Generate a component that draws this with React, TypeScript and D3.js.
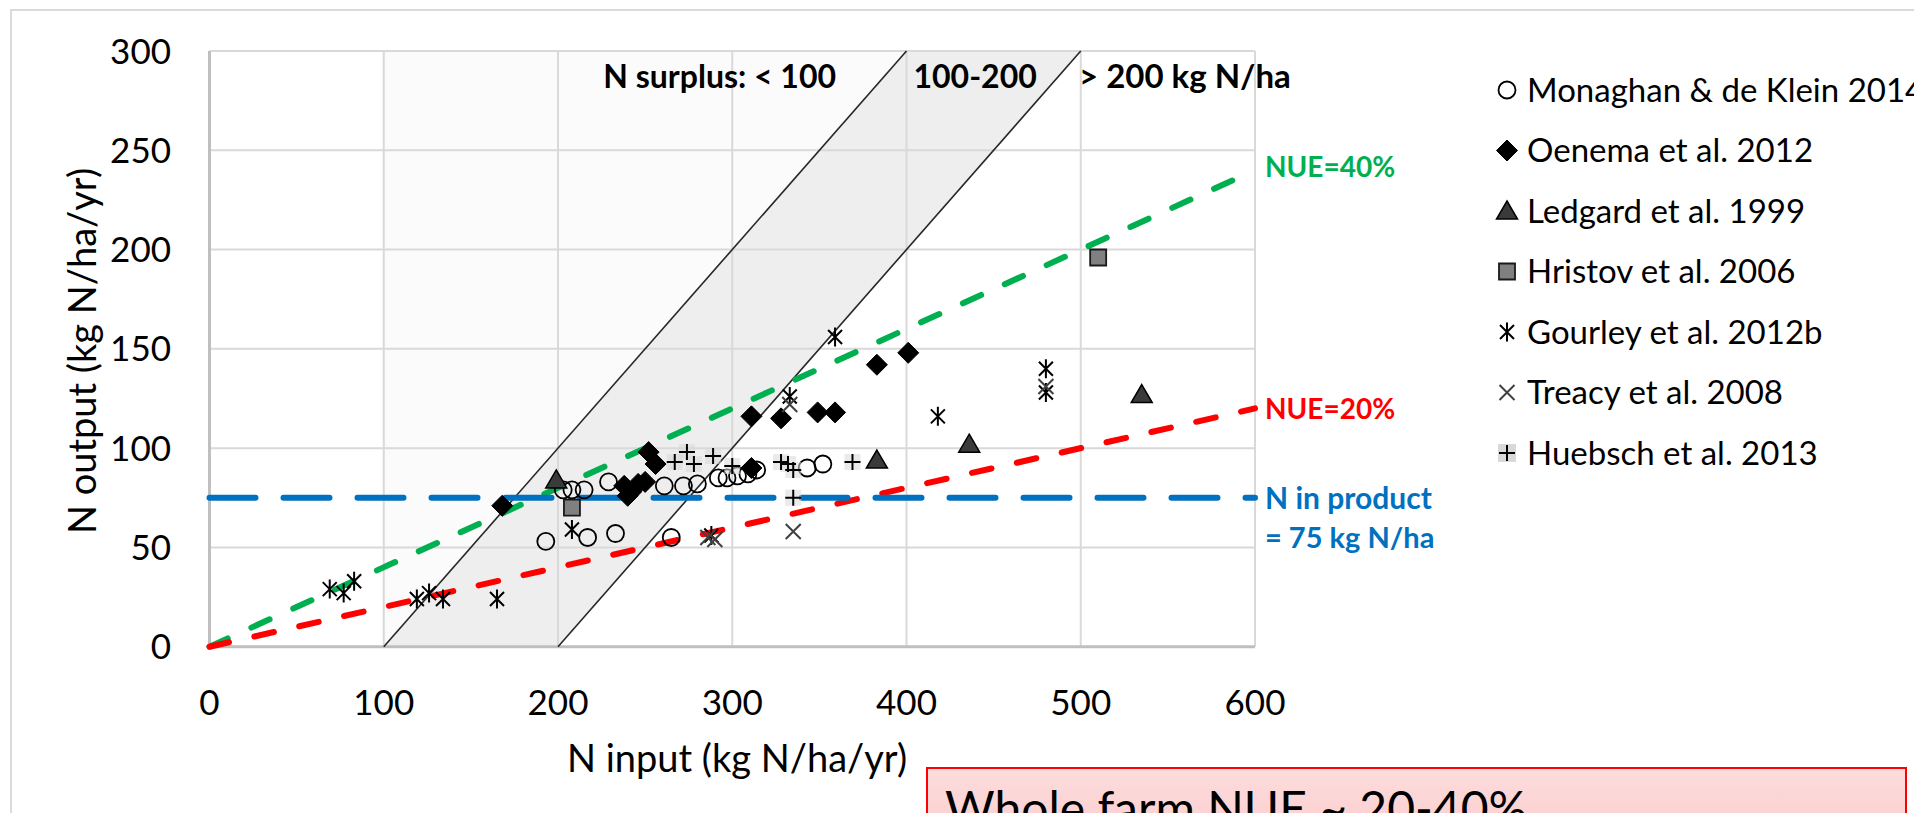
import * as d3 from 'd3';
import React, { useEffect, useRef } from 'react';

const W = 1914;
const H = 813;

// points: [N input, N output] in kg N/ha/yr
const monaghan = [[193, 53], [203, 79], [208, 79], [215, 79], [217, 55], [229, 83], [233, 57], [261, 81], [265, 55], [272, 81], [280, 82], [292, 85], [297, 85], [303, 86], [309, 87], [314, 89], [343, 90], [352, 92]];
const oenema = [[168, 71], [238, 81], [240, 76], [242, 78], [246, 82], [250, 83], [252, 98], [256, 92], [311, 90], [311, 116], [328, 115], [349, 118], [359, 118], [383, 142], [401, 148]];
const ledgard = [[199, 84], [383, 94], [436, 102], [535, 127]];
const hristov = [[208, 70], [510, 196]];
const gourley = [[69, 29], [77, 27], [83, 33], [119, 24], [126, 27], [134, 24], [165, 24], [208, 59], [288, 56], [333, 126], [359, 156], [418, 116], [480, 140], [480, 128]];
const treacy = [[286, 55], [290, 54], [335, 58], [333, 122], [480, 131]];
const huebsch = [[267, 93], [274, 98], [278, 92], [289, 96], [300, 91], [328, 93], [332, 92], [335, 89], [335, 75], [369, 93]];

const legendNames = ['Monaghan & de Klein 2014', 'Oenema et al. 2012', 'Ledgard et al. 1999', 'Hristov et al. 2006', 'Gourley et al. 2012b', 'Treacy et al. 2008', 'Huebsch et al. 2013'];

const xTicks = [0, 100, 200, 300, 400, 500, 600];
const yTicks = [0, 50, 100, 150, 200, 250, 300];

const nueRates = [0.4, 0.2];
const nueLabels = ['NUE=40%', 'NUE=20%'];
const surplusLimits = [100, 200];
const productN = 75;
const surplusLabels = ['N surplus: < 100', '100-200', '> 200 kg N/ha'];
const surplusLabelX = [226, 404, 499];

const FONT = 'Lato, Calibri, sans-serif';

// marker outlines, centred on 0,0
const shapes = {
    circle: 'M8.5,0A8.5,8.5 0 1,1 -8.5,0A8.5,8.5 0 1,1 8.5,0Z',
    diamond: 'M0,-10.5L10.5,0L0,10.5L-10.5,0Z',
    triangle: 'M0,-10L10.5,8L-10.5,8Z',
    square: 'M-8,-8L8,-8L8,8L-8,8Z',
    asterisk: 'M-7,-7L7,7M-7,7L7,-7M0,-9.5L0,9.5',
    times: 'M-7.5,-7.5L7.5,7.5M-7.5,7.5L7.5,-7.5',
    plus: 'M-8,0L8,0M0,-8L0,8',
}

const series = [
    { pts: monaghan, d: shapes.circle, fill: 'none', stroke: '#000', sw: 1.8 },
    { pts: oenema, d: shapes.diamond, fill: '#000', stroke: '#000', sw: 1 },
    { pts: ledgard, d: shapes.triangle, fill: '#3a3a3a', stroke: '#000', sw: 1.5 },
    { pts: hristov, d: shapes.square, fill: '#808080', stroke: '#1a1a1a', sw: 1.8 },
    { pts: gourley, d: shapes.asterisk, fill: 'none', stroke: '#000', sw: 2 },
    { pts: treacy, d: shapes.times, fill: 'none', stroke: '#404040', sw: 2 },
    { pts: huebsch, d: shapes.plus, fill: 'none', stroke: '#000', sw: 2, back: true },
]

function Chart() {
    const ref = useRef(null)

    var drawChart = () => {
        const svg = d3.select(ref.current)
        svg.selectAll('*').remove()

        const x = d3.scaleLinear().domain([0, 600]).range([209.5, 1255])
        const y = d3.scaleLinear().domain([0, 300]).range([646.7, 51])

        const defs = svg.append('defs')
        const grad = defs.append('linearGradient').attr('id', 'pink').attr('x1', 0).attr('y1', 0).attr('x2', 0).attr('y2', 1)
        grad.append('stop').attr('offset', '0%').attr('stop-color', '#fddcdc')
        grad.append('stop').attr('offset', '100%').attr('stop-color', '#fbc3c5')

        svg.append('rect').attr('width', W).attr('height', H).attr('fill', '#fff')

        //outer chart frame (runs off the page right and bottom)
        svg.append('rect')
            .attr('x', 11).attr('y', 10).attr('width', 2200).attr('height', 1200)
            .attr('fill', 'none').attr('stroke', '#dadada').attr('stroke-width', 2)

        //surplus shading
        const poly = d3.line().x(d => x(d[0])).y(d => y(d[1]))
        const lo = surplusLimits[0], hi = surplusLimits[1]
        svg.append('path')
            .attr('d', poly([[lo, 0], [lo, 300], [lo + 300, 300]]) + 'Z')
            .attr('fill', '#fbfbfb')
        svg.append('path')
            .attr('d', poly([[lo, 0], [hi, 0], [hi + 300, 300], [lo + 300, 300]]) + 'Z')
            .attr('fill', '#eeeeee')

        //grid
        svg.append('g').selectAll('line').data(yTicks.slice(1)).join('line')
            .attr('x1', x(0)).attr('x2', x(600))
            .attr('y1', d => y(d)).attr('y2', d => y(d))
            .attr('stroke', '#d9d9d9').attr('stroke-width', 2)
        svg.append('g').selectAll('line').data(xTicks.slice(1)).join('line')
            .attr('y1', y(0)).attr('y2', y(300))
            .attr('x1', d => x(d)).attr('x2', d => x(d))
            .attr('stroke', '#d9d9d9').attr('stroke-width', 2)

        //axis lines
        svg.append('line').attr('x1', x(0)).attr('x2', x(0)).attr('y1', y(0)).attr('y2', y(300))
            .attr('stroke', '#bfbfbf').attr('stroke-width', 3)
        svg.append('line').attr('x1', x(0) - 1.5).attr('x2', x(600)).attr('y1', y(0)).attr('y2', y(0))
            .attr('stroke', '#bfbfbf').attr('stroke-width', 3)

        //surplus boundaries
        svg.append('g').selectAll('line').data(surplusLimits).join('line')
            .attr('x1', d => x(d)).attr('y1', y(0))
            .attr('x2', d => x(d + 300)).attr('y2', y(300))
            .attr('stroke', '#262626').attr('stroke-width', 1.6)

        //tick labels
        svg.append('g').selectAll('text').data(yTicks).join('text')
            .attr('x', 171).attr('y', d => y(d)).attr('dy', '0.36em')
            .attr('text-anchor', 'end').attr('font-size', 35).attr('font-family', FONT).attr('fill', '#000')
            .text(d => d)
        svg.append('g').selectAll('text').data(xTicks).join('text')
            .attr('x', d => x(d)).attr('y', 702).attr('dy', '0.36em')
            .attr('text-anchor', 'middle').attr('font-size', 35).attr('font-family', FONT).attr('fill', '#000')
            .text(d => d)

        //axis titles
        svg.append('text').attr('x', 737).attr('y', 758).attr('dy', '0.36em')
            .attr('text-anchor', 'middle').attr('font-size', 38).attr('font-family', FONT)
            .text('N input (kg N/ha/yr)')
        svg.append('text').attr('transform', 'translate(82,351) rotate(-90)').attr('dy', '0.36em')
            .attr('text-anchor', 'middle').attr('font-size', 38).attr('font-family', FONT)
            .text('N output (kg N/ha/yr)')

        //NUE lines
        const nueColors = ['#00b050', '#ff0000']
        nueRates.forEach((k, i) => {
            svg.append('line')
                .attr('x1', x(0)).attr('y1', y(0)).attr('x2', x(600)).attr('y2', y(600 * k))
                .attr('stroke', nueColors[i]).attr('stroke-width', 6)
                .attr('stroke-dasharray', '20 26').attr('stroke-linecap', 'round')
            svg.append('text')
                .attr('x', 1265).attr('y', y(600 * k) - (i === 0 ? 3 : 0)).attr('dy', '0.36em')
                .attr('font-size', 28).attr('font-weight', 700).attr('font-family', FONT)
                .attr('fill', nueColors[i])
                .text(nueLabels[i])
        })

        //N in product
        svg.append('line')
            .attr('x1', x(0)).attr('y1', y(productN)).attr('x2', x(600)).attr('y2', y(productN))
            .attr('stroke', '#0070c0').attr('stroke-width', 6)
            .attr('stroke-dasharray', '46 28').attr('stroke-linecap', 'round')
        svg.append('text').attr('x', 1265).attr('y', y(productN)).attr('dy', '0.36em')
            .attr('font-size', 30).attr('font-weight', 700).attr('font-family', FONT).attr('fill', '#0070c0')
            .text('N in product')
        svg.append('text').attr('x', 1265).attr('y', y(productN) + 40).attr('dy', '0.36em')
            .attr('font-size', 29).attr('font-weight', 700).attr('font-family', FONT).attr('fill', '#0070c0')
            .text('= ' + productN + ' kg N/ha')

        //surplus labels
        svg.append('g').selectAll('text').data(surplusLabels).join('text')
            .attr('x', (d, i) => x(surplusLabelX[i])).attr('y', 88)
            .attr('font-size', (d, i) => i === 2 ? 33 : 32).attr('font-weight', 700).attr('font-family', FONT).attr('fill', '#000')
            .text(d => d)

        //markers
        series.forEach(s => {
            const g = svg.append('g')
            if (s.back) {
                g.selectAll('rect').data(s.pts).join('rect')
                    .attr('x', d => x(d[0]) - 8).attr('y', d => y(d[1]) - 8)
                    .attr('width', 16).attr('height', 16)
                    .attr('fill', '#d9d9d9').attr('opacity', 0.55)
            }
            g.selectAll('path').data(s.pts).join('path')
                .attr('transform', d => 'translate(' + x(d[0]) + ',' + y(d[1]) + ')')
                .attr('d', s.d).attr('fill', s.fill).attr('stroke', s.stroke).attr('stroke-width', s.sw)
        })

        //legend
        const leg = svg.append('g').attr('transform', 'translate(1507,90)')
        const row = leg.selectAll('g').data(series).join('g')
            .attr('transform', (d, i) => 'translate(0,' + i * 60.5 + ')')
        row.filter(d => d.back).append('rect')
            .attr('x', -9).attr('y', -9).attr('width', 18).attr('height', 18).attr('fill', '#d9d9d9')
        row.append('path')
            .attr('d', d => d.d).attr('fill', d => d.fill).attr('stroke', d => d.stroke).attr('stroke-width', d => d.sw)
        row.append('text')
            .attr('x', 20).attr('dy', '0.36em')
            .attr('font-size', 33).attr('font-family', FONT).attr('fill', '#000')
            .text((d, i) => legendNames[i])

        //summary box
        svg.append('rect')
            .attr('x', 927).attr('y', 768).attr('width', 979).attr('height', 120)
            .attr('fill', 'url(#pink)').attr('stroke', '#ff0000').attr('stroke-width', 2)
        svg.append('text').attr('x', 945).attr('y', 826)
            .attr('font-size', 48).attr('font-family', FONT).attr('fill', '#000')
            .text('Whole farm NUE ~ 20-40%')
    }

    useEffect(() => {
        drawChart()
    }, [])

    return (
        <svg ref={ref} width={W} height={H}
            style={{ position: 'absolute', left: 0, top: 0, display: 'block' }}></svg>
    )
}

export default function App() {
    return <Chart />
}
